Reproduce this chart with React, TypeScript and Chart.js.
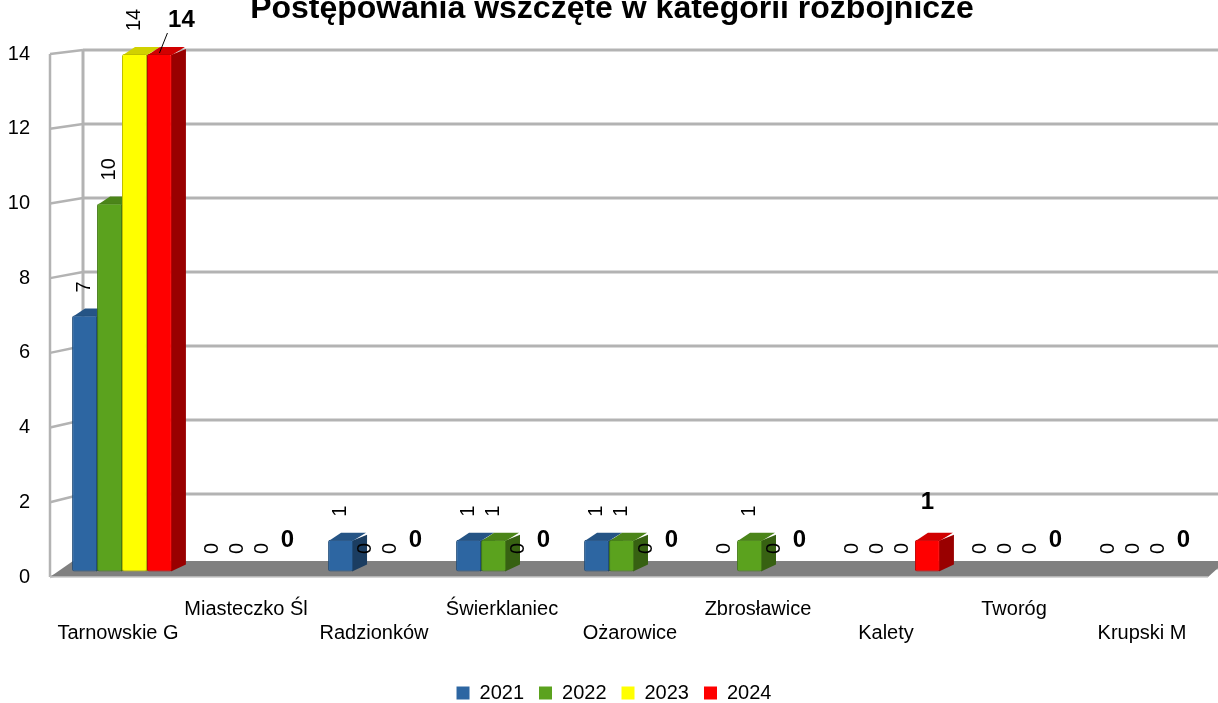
import React, { useEffect, useRef } from 'react';
import { Chart, registerables } from 'chart.js';

Chart.register(...registerables);

const TITLE = 'Postępowania wszczęte w kategorii rozbójnicze';
const categories = ['Tarnowskie G', 'Miasteczko Śl', 'Radzionków', 'Świerklaniec', 'Ożarowice', 'Zbrosławice', 'Kalety', 'Tworóg', 'Krupski M'];
const seriesNames = ['2021', '2022', '2023', '2024'];
const values2021 = [7, 0, 1, 1, 1, 0, 0, 0, 0];
const values2022 = [10, 0, 0, 1, 1, 1, 0, 0, 0];
const values2023 = [14, 0, 0, 0, 0, 0, 0, 0, 0];
const values2024 = [14, 0, 0, 0, 0, 0, 1, 0, 0];
const yTicks = [0, 2, 4, 6, 8, 10, 12, 14];
const seriesColors = ['#2d66a2', '#5ba21e', '#ffff00', '#ff0000'];

const FONT = "'Liberation Sans', Arial, sans-serif";

function shade(hex: string, f: number) {
  const n = parseInt(hex.slice(1), 16);
  const r = Math.round(((n >> 16) & 255) * f);
  const g = Math.round(((n >> 8) & 255) * f);
  const b = Math.round((n & 255) * f);
  return `rgb(${r},${g},${b})`;
}

const DX = 14;
const DY = -7;

const shiftBlocks = {
  id: 'shiftBlocks',
  afterLayout(chart: any) {
    if (chart.legend) chart.legend.left += 18;
    if (chart.titleBlock) chart.titleBlock.left += 14;
  },
};

const threeD = {
  id: 'threeD',
  beforeDatasetsDraw(chart: any) {
    const { ctx, chartArea: ca, scales } = chart;
    const y = scales.y;
    const max = y.max;
    const wallFrontX = ca.left - 8;
    const wallBackX = ca.left + 25;
    const dyAt = (v: number) => -(9 - (5 * v) / max);
    const y0 = y.getPixelForValue(0);
    ctx.save();
    ctx.strokeStyle = '#b3b3b3';
    yTicks.forEach((v) => {
      const yf = y.getPixelForValue(v);
      const yb = yf + dyAt(v);
      ctx.lineWidth = 3;
      ctx.beginPath();
      ctx.moveTo(wallBackX, yb);
      ctx.lineTo(chart.width, yb);
      ctx.stroke();
      ctx.lineWidth = 2.5;
      ctx.beginPath();
      ctx.moveTo(wallFrontX, yf);
      ctx.lineTo(wallBackX, yb);
      ctx.stroke();
    });
    const yTop = y.getPixelForValue(max);
    ctx.lineWidth = 2.5;
    ctx.beginPath();
    ctx.moveTo(wallFrontX, yTop);
    ctx.lineTo(wallFrontX, y0);
    ctx.stroke();
    ctx.lineWidth = 3;
    ctx.beginPath();
    ctx.moveTo(wallBackX, yTop + dyAt(max));
    ctx.lineTo(wallBackX, y0 + dyAt(0));
    ctx.stroke();
    // floor
    ctx.fillStyle = '#808080';
    ctx.beginPath();
    ctx.moveTo(wallFrontX, y0);
    ctx.lineTo(ca.right - 2, y0);
    ctx.lineTo(chart.width + 8, y0 - 16);
    ctx.lineTo(wallBackX - 10, y0 - 16);
    ctx.closePath();
    ctx.fill();
    ctx.strokeStyle = '#c8c8c8';
    ctx.lineWidth = 1.5;
    ctx.beginPath();
    ctx.moveTo(wallFrontX, y0);
    ctx.lineTo(ca.right - 2, y0);
    ctx.stroke();

    // bar side and top faces
    chart.data.datasets.forEach((ds: any, di: number) => {
      const meta = chart.getDatasetMeta(di);
      const col = seriesColors[di];
      meta.data.forEach((bar: any, i: number) => {
        const v = ds.data[i];
        if (!v) return;
        const { x, y: top, base, width } = bar.getProps(['x', 'y', 'base', 'width'], true);
        const L = x - width / 2;
        const R = x + width / 2;
        ctx.fillStyle = shade(col, 0.6);
        ctx.beginPath();
        ctx.moveTo(R - 1, top + 1);
        ctx.lineTo(R + DX, top + DY + 2);
        ctx.lineTo(R + DX, base + DY);
        ctx.lineTo(R - 1, base);
        ctx.closePath();
        ctx.fill();
        ctx.fillStyle = shade(col, 0.82);
        ctx.beginPath();
        ctx.moveTo(L + 1, top + 1);
        ctx.lineTo(R, top + 1);
        ctx.lineTo(R + DX - 1, top + DY);
        ctx.lineTo(L + DX - 1, top + DY);
        ctx.closePath();
        ctx.fill();
      });
    });
    ctx.restore();
  },
  afterDatasetsDraw(chart: any) {
    const { ctx, scales } = chart;
    const y = scales.y;
    ctx.save();
    ctx.fillStyle = '#000';
    chart.data.datasets.forEach((ds: any, di: number) => {
      const meta = chart.getDatasetMeta(di);
      meta.data.forEach((bar: any, i: number) => {
        const v = ds.data[i];
        const x = bar.x;
        const top = y.getPixelForValue(v);
        if (di < 3) {
          ctx.save();
          ctx.font = `20px ${FONT}`;
          ctx.translate(x, top - 23);
          ctx.rotate(-Math.PI / 2);
          ctx.textAlign = 'left';
          ctx.textBaseline = 'middle';
          ctx.fillText(String(v), 0, 0);
          ctx.restore();
        } else {
          ctx.font = `bold 24px ${FONT}`;
          ctx.textAlign = 'center';
          ctx.textBaseline = 'middle';
          let ly = top - 37;
          let lx = x;
          if (ly < 25) {
            lx = x + 22;
            ly = 20;
            ctx.strokeStyle = '#000';
            ctx.lineWidth = 1;
            ctx.beginPath();
            ctx.moveTo(x, top - 1);
            ctx.lineTo(x + 8, top - 21);
            ctx.stroke();
          }
          ctx.fillText(String(v), lx, ly);
        }
      });
    });
    ctx.restore();
  },
};

export default function App() {
  const ref = useRef<HTMLCanvasElement | null>(null);
  useEffect(() => {
    const canvas = ref.current;
    if (!canvas) return;
    const seriesValues = [values2021, values2022, values2023, values2024];
    const chart = new Chart(canvas, {
      type: 'bar',
      data: {
        labels: categories,
        datasets: seriesNames.map((name, i) => ({
          label: name,
          data: seriesValues[i],
          base: 0.15,
          backgroundColor: (c: any) => (c.raw ? seriesColors[i] : 'rgba(0,0,0,0)'),
          borderColor: (c: any) => (c.raw ? shade(seriesColors[i], 0.75) : 'rgba(0,0,0,0)'),
          borderWidth: 1,
          borderRadius: 2,
          borderSkipped: false,
        })) as any,
      },
      options: {
        responsive: false,
        animation: false,
        events: [],
        layout: { padding: { left: 0, right: 8, top: 0, bottom: -10 } },
        datasets: { bar: { categoryPercentage: 0.78, barPercentage: 1 } },
        plugins: {
          title: {
            display: true,
            text: TITLE,
            color: '#000',
            font: { family: FONT, size: 32, weight: 'bold', lineHeight: 1.2 },
            padding: { top: -10.2, bottom: 25.8 },
          },
          legend: {
            display: true,
            position: 'bottom',
            labels: {
              color: '#000',
              font: { family: FONT, size: 20 },
              boxWidth: 13,
              boxHeight: 13,
              padding: 15,
              generateLabels: (ch: any) =>
                ch.data.datasets.map((ds: any, i: number) => ({
                  text: ds.label,
                  fillStyle: seriesColors[i],
                  strokeStyle: seriesColors[i],
                  lineWidth: 0,
                  hidden: false,
                  datasetIndex: i,
                })),
            },
          },
          tooltip: { enabled: false },
        },
        scales: {
          x: {
            grid: { display: false, drawTicks: false },
            border: { display: false },
            ticks: {
              color: '#000',
              font: { family: FONT, size: 20, lineHeight: 24 / 20 },
              autoSkip: false,
              maxRotation: 0,
              minRotation: 0,
              padding: 20,
              labelOffset: -4,
              callback: (_v: any, idx: number) => (idx % 2 === 0 ? ['', categories[idx]] : [categories[idx]]),
            },
            afterFit: (scale: any) => {
              scale.height = 91;
            },
          },
          y: {
            min: 0,
            max: 14,
            grid: { display: false, drawTicks: false },
            border: { display: false },
            afterBuildTicks: (scale: any) => {
              scale.ticks = yTicks.map((v) => ({ value: v }));
            },
            ticks: {
              color: '#000',
              font: { family: FONT, size: 20 },
              padding: 28,
              crossAlign: 'near',
            },
            afterFit: (scale: any) => {
              scale.width = 58;
            },
          },
        },
      } as any,
      plugins: [threeD, shiftBlocks],
    });
    return () => chart.destroy();
  }, []);
  return (
    <div style={{ position: 'absolute', left: 0, top: 0, width: 1218, height: 703, background: '#fff' }}>
      <canvas ref={ref} width={1218} height={703} />
    </div>
  );
}
